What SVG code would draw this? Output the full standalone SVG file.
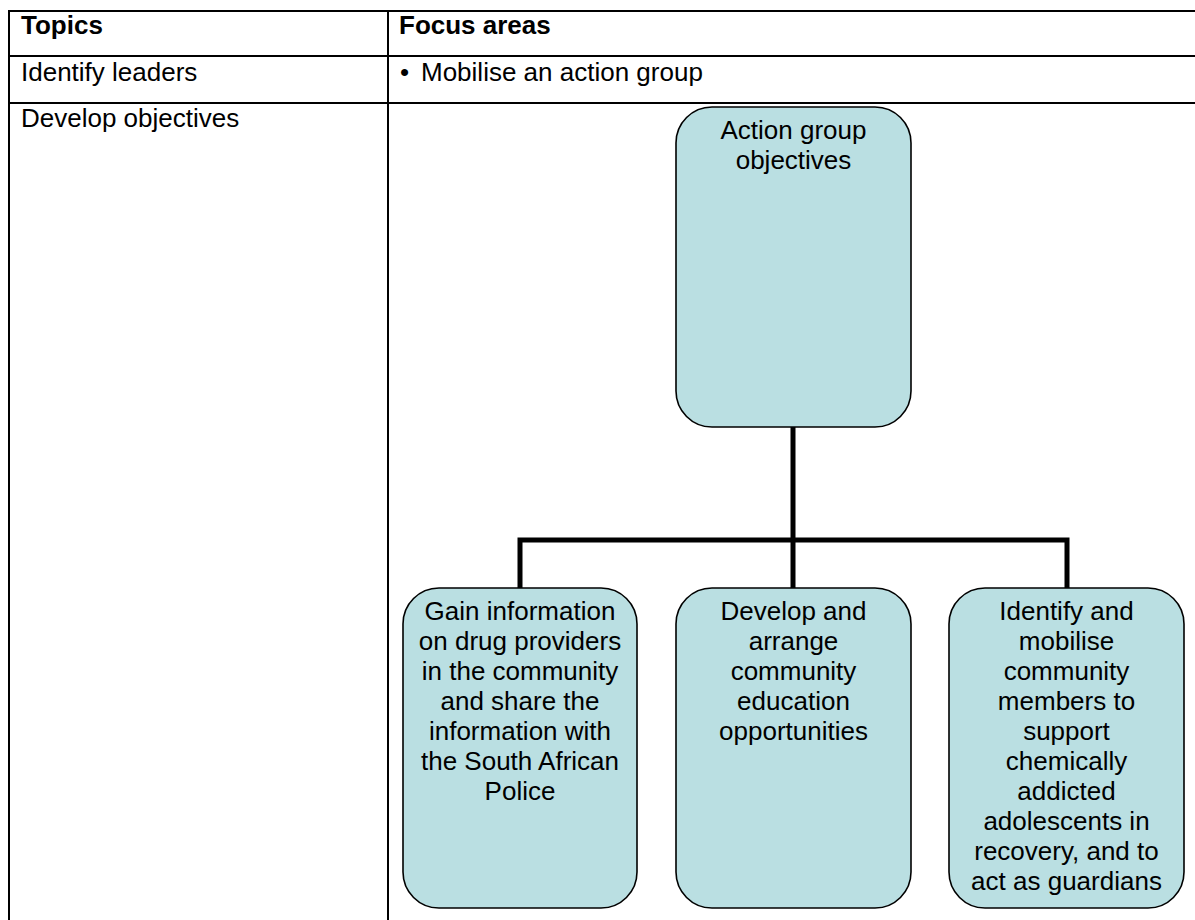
<svg xmlns="http://www.w3.org/2000/svg" width="1195" height="920" viewBox="0 0 1195 920">
<style>
  text { font-family: "Liberation Sans", Arial, sans-serif; font-size: 26px; fill: #000; }
  .b { font-weight: bold; }
  .c { text-anchor: middle; }
  .grid { stroke: #000; stroke-width: 2; fill: none; }
  .box { fill: #BADFE2; stroke: #000; stroke-width: 1.6; }
  .conn { stroke: #000; stroke-width: 5; fill: none; }
</style>
<defs>
  <clipPath id="clip3"><rect x="949" y="588" width="235" height="307"/></clipPath>
</defs>
<rect x="0" y="0" width="1195" height="920" fill="#fff"/>
<g id="table">
  <path class="grid" d="M9 11 H1195 M9 56 H1195 M9 103 H1195 M9 10 V920 M388 10 V920"/>
  <text class="b" x="21" y="34">Topics</text>
  <text class="b" x="399" y="34">Focus areas</text>
  <text x="21" y="81">Identify leaders</text>
  <text x="400" y="81">•</text>
  <text x="421" y="81">Mobilise an action group</text>
  <text x="21" y="127">Develop objectives</text>
</g>
<g id="connectors">
  <path class="conn" d="M793 427 V540 M520 588 V540 H1067 V588 M793 540 V588"/>
</g>
<g id="node-top">
  <rect class="box" x="676" y="107" width="235" height="320" rx="36" ry="36"/>
  <text class="c" x="793.5" y="139">Action group</text>
  <text class="c" x="793.5" y="169">objectives</text>
</g>
<g id="node-1">
  <rect class="box" x="403" y="588" width="234" height="320" rx="36" ry="36"/>
  <text class="c" x="520" y="620">Gain information</text>
  <text class="c" x="520" y="650">on drug providers</text>
  <text class="c" x="520" y="680">in the community</text>
  <text class="c" x="520" y="710">and share the</text>
  <text class="c" x="520" y="740">information with</text>
  <text class="c" x="520" y="770">the South African</text>
  <text class="c" x="520" y="800">Police</text>
</g>
<g id="node-2">
  <rect class="box" x="676" y="588" width="235" height="320" rx="36" ry="36"/>
  <text class="c" x="793.5" y="620">Develop and</text>
  <text class="c" x="793.5" y="650">arrange</text>
  <text class="c" x="793.5" y="680">community</text>
  <text class="c" x="793.5" y="710">education</text>
  <text class="c" x="793.5" y="740">opportunities</text>
</g>
<g id="node-3">
  <rect class="box" x="949" y="588" width="235" height="320" rx="36" ry="36"/>
  <g clip-path="url(#clip3)">
    <text class="c" x="1066.5" y="620">Identify and</text>
    <text class="c" x="1066.5" y="650">mobilise</text>
    <text class="c" x="1066.5" y="680">community</text>
    <text class="c" x="1066.5" y="710">members to</text>
    <text class="c" x="1066.5" y="740">support</text>
    <text class="c" x="1066.5" y="770">chemically</text>
    <text class="c" x="1066.5" y="800">addicted</text>
    <text class="c" x="1066.5" y="830">adolescents in</text>
    <text class="c" x="1066.5" y="860">recovery, and to</text>
    <text class="c" x="1066.5" y="890">act as guardians</text>
  </g>
</g>
</svg>
